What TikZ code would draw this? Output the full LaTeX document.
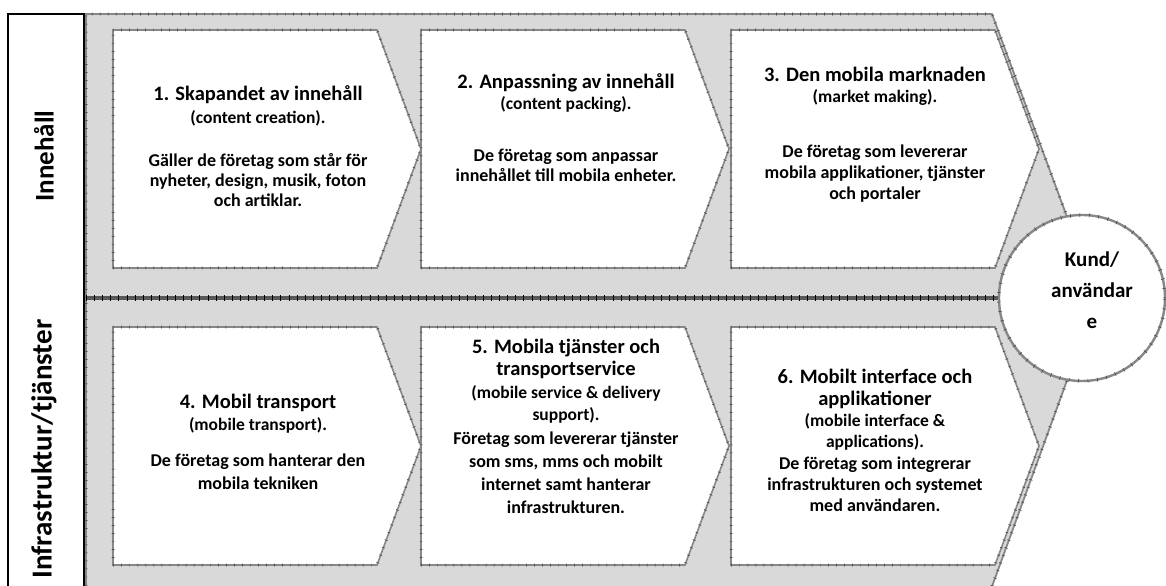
\documentclass[tikz,border=0pt]{standalone}
\usepackage{fontspec}
\setmainfont{Carlito}
\definecolor{panelgray}{RGB}{217,217,217}
\definecolor{rimgray}{RGB}{135,135,135}
\definecolor{tickgray}{RGB}{55,55,55}
\newcommand\ttlfont{\bfseries\fontsize{20.5bp}{22bp}\selectfont}
\newcommand\subfont{\bfseries\fontsize{17.5bp}{22bp}\selectfont}
\newcommand\bodyfont{\bfseries\fontsize{18bp}{20bp}\selectfont}
\newcommand\lanefont{\bfseries\fontsize{27bp}{30bp}\selectfont}
\newcommand\lanefontlong{\bfseries\fontsize{29bp}{32bp}\selectfont}
\newcommand\kundfont{\bfseries\fontsize{21bp}{31bp}\selectfont}
\tikzset{
  panelrim/.style={draw=rimgray, line width=1.8bp,
    postaction={draw=tickgray, line width=3.4bp, dash pattern=on 0.45bp off 7.6bp}},
  boxrim/.style={draw=rimgray, line width=1.6bp, line join=miter, fill=white,
    postaction={draw=tickgray, line width=3bp, dash pattern=on 0.45bp off 7.6bp}},
  seprim/.style={draw=black!65, line width=4.5bp,
    postaction={draw=black, line width=6bp, dash pattern=on 0.5bp off 7.6bp}},
  txt/.style={inner sep=0pt, align=center, text=black},
  skip/.style={execute at begin node=\setlength{\baselineskip}{#1}},
}
\begin{document}
\begin{tikzpicture}[x=1bp,y=-1bp]
\useasboundingbox (0,0) rectangle (1166,586);
\clip (0,0) rectangle (1166,586);

% lane label column
\draw[line width=1.4bp] (8,600) -- (8,14) -- (84,14) -- (84,600);
\node[txt, font=\lanefont, rotate=90] (lane1) at (44,156) {Innehåll};
\node[txt, font=\lanefontlong, rotate=90] (lane2) at (44,449) {Infrastruktur/tjänster};

% the two halves of the large chevron
\fill[panelgray] (86,14) -- (992,14) -- (1097,298) -- (86,298) -- cycle;
\fill[panelgray] (86,298) -- (1097,298) -- (990,592) -- (86,592) -- cycle;
\draw[panelrim] (86,298) -- (86,14) -- (992,14) -- (1097,298);
\draw[panelrim] (1097,298) -- (990,592) -- (86,592) -- (86,298);
\draw[seprim] (86,298) -- (1097,298);

% value chain steps
\foreach \l in {113,421,731}{
  \draw[boxrim] (\l,30) -- ++(264,0) -- ++(44,119) -- ++(-44,119) -- ++(-264,0) -- cycle;
  \draw[boxrim] (\l,327) -- ++(264,0) -- ++(44,119) -- ++(-44,119) -- ++(-264,0) -- cycle;
}

% customer
\node[circle, minimum size=166bp, inner sep=0pt, fill=white, draw=rimgray, line width=2.4bp,
  postaction={draw=tickgray, line width=4bp, dash pattern=on 0.45bp off 9bp}] (kund) at (1082,298) {};
\node[txt, font=\kundfont, skip=31bp] (kundtext) at (1092,290) {Kund/\\användar\\e};

% step 1
\node[txt, font=\ttlfont] (t1) at (258,95) {1. Skapandet av innehåll};
\node[txt, font=\subfont] (s1) at (258,118) {(content creation).};
\node[txt, font=\bodyfont, skip=20bp] (b1) at (258,180) {Gäller de företag som står för\\nyheter, design, musik, foton\\och artiklar.};
% step 2
\node[txt, font=\ttlfont] (t2) at (566,83) {2. Anpassning av innehåll};
\node[txt, font=\subfont] (s2) at (566,104) {(content packing).};
\node[txt, font=\bodyfont, skip=20bp] (b2) at (566,165) {De företag som anpassar\\innehållet till mobila enheter.};
% step 3
\node[txt, font=\ttlfont] (t3) at (875,74) {3. Den mobila marknaden};
\node[txt, font=\subfont] (s3) at (875,97) {(market making).};
\node[txt, font=\bodyfont, skip=21bp] (b3) at (875,174) {De företag som levererar\\mobila applikationer, tjänster\\och portaler};
% step 4
\node[txt, font=\ttlfont] (t4) at (258,403) {4. Mobil transport};
\node[txt, font=\subfont] (s4) at (258,425) {(mobile transport).};
\node[txt, font=\bodyfont, skip=23bp] (b4) at (258,471.5) {De företag som hanterar den\\mobila tekniken};
% step 5
\node[txt, font=\ttlfont, skip=22bp] (t5) at (566,359) {5. Mobila tjänster och\\transportservice};
\node[txt, font=\subfont, skip=22bp] (s5) at (566,404) {(mobile service \& delivery\\support).};
\node[txt, font=\bodyfont, skip=23bp] (b5) at (566,472.5) {Företag som levererar tjänster\\som sms, mms och mobilt\\internet samt hanterar\\infrastrukturen.};
% step 6
\node[txt, font=\ttlfont, skip=22bp] (t6) at (875,389) {6. Mobilt interface och\\applikationer};
\node[txt, font=\subfont, skip=21bp] (s6) at (875,431.5) {(mobile interface \&\\applications).};
\node[txt, font=\bodyfont, skip=21bp] (b6) at (875,484) {De företag som integrerar\\infrastrukturen och systemet\\med användaren.};
\end{tikzpicture}
\end{document}
